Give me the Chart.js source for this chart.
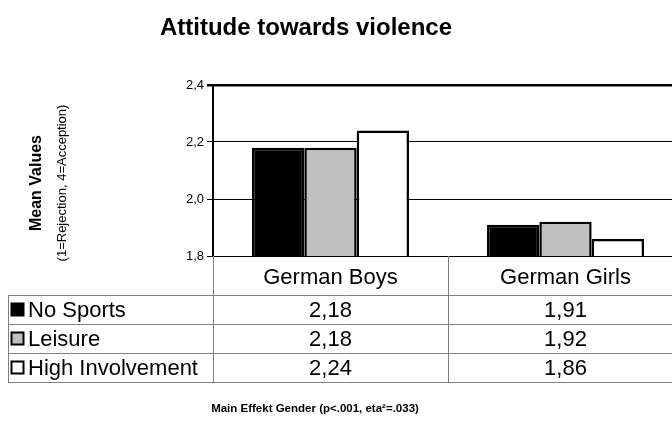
<!DOCTYPE html>
<html>
<head>
<meta charset="utf-8">
<script src="https://cdn.jsdelivr.net/npm/chart.js@4.4.1/dist/chart.umd.min.js"></script>
<style>
html,body{margin:0;padding:0;background:#fff;overflow:hidden;width:672px;height:427px;}
#wrap{position:absolute;left:0;top:0;width:690px;height:427px;}
</style>
</head>
<body>
<div id="wrap"><canvas id="c" width="690" height="427"></canvas></div>
<script>
const categories = ['German Boys', 'German Girls'];
const seriesNames = ['No Sports', 'Leisure', 'High Involvement'];
const noSports = [2.18, 1.91];
const leisure = [2.18, 1.92];
const highInvolvement = [2.24, 1.86];
const seriesColors = ['#000000', '#C0C0C0', '#FFFFFF'];
const yMin = 1.8, yMax = 2.4, yStep = 0.2;
const chartTitle = 'Attitude towards violence';
const yTitle = 'Mean Values';
const ySubTitle = '(1=Rejection, 4=Acception)';
const footNote = 'Main Effekt Gender (p<.001, eta\u00B2=.033)';

const FONT = '"Liberation Sans", Arial, sans-serif';
const fmt = (v, d) => v.toFixed(d).replace('.', ',');
const seriesData = [noSports, leisure, highInvolvement];

const tablePlugin = {
  id: 'tablePlugin',
  afterDraw(chart) {
    const ctx = chart.ctx;
    const ca = chart.chartArea;
    const x = chart.scales.x;
    ctx.save();
    // title
    ctx.fillStyle = '#000';
    ctx.font = 'bold 24px ' + FONT;
    ctx.textAlign = 'center';
    ctx.textBaseline = 'alphabetic';
    ctx.fillText(chartTitle, 306, 35);
    // y titles
    ctx.save();
    ctx.translate(41, 183);
    ctx.rotate(-Math.PI / 2);
    ctx.font = 'bold 16px ' + FONT;
    ctx.fillText(yTitle, 0, 0);
    ctx.restore();
    ctx.save();
    ctx.translate(66, 183);
    ctx.rotate(-Math.PI / 2);
    ctx.font = '13px ' + FONT;
    ctx.fillText(ySubTitle, 0, 0);
    ctx.restore();
    // footnote
    ctx.font = 'bold 11.5px ' + FONT;
    ctx.fillText(footNote, 315, 412);

    // table
    const top = ca.bottom;
    const headerH = 39;
    const rowH = 29;
    const leftX = 8;
    const catW = (ca.right - ca.left) / categories.length;
    ctx.strokeStyle = '#808080';
    ctx.lineWidth = 1;
    const nRows = seriesNames.length;
    const tableBottom = top + headerH + nRows * rowH;
    ctx.beginPath();
    for (let i = 0; i <= categories.length; i++) {
      const vx = Math.round(ca.left + i * catW) + 0.5;
      ctx.moveTo(vx, top);
      ctx.lineTo(vx, tableBottom);
    }
    ctx.moveTo(leftX + 0.5, top + headerH);
    ctx.lineTo(leftX + 0.5, tableBottom);
    for (let r = 0; r <= nRows; r++) {
      const hy = Math.round(top + headerH + r * rowH) + 0.5;
      ctx.moveTo(leftX, hy);
      ctx.lineTo(ca.right, hy);
    }
    ctx.stroke();

    ctx.fillStyle = '#000';
    ctx.font = '22px ' + FONT;
    ctx.textBaseline = 'middle';
    ctx.textAlign = 'center';
    categories.forEach((c, i) => {
      const cx = x.getPixelForValue(i);
      ctx.fillText(c, cx, top + headerH / 2 + 2);
    });
    seriesNames.forEach((s, r) => {
      const cy = top + headerH + r * rowH + rowH / 2 + 1;
      ctx.fillStyle = seriesColors[r];
      ctx.fillRect(11.5, cy - 7, 12, 12);
      ctx.strokeStyle = '#000';
      ctx.lineWidth = 2;
      ctx.strokeRect(11.5, cy - 7, 12, 12);
      ctx.fillStyle = '#000';
      ctx.textAlign = 'left';
      ctx.fillText(s, 28, cy);
      ctx.textAlign = 'center';
      seriesData[r].forEach((v, i) => {
        ctx.fillText(fmt(v, 2), x.getPixelForValue(i), cy);
      });
    });
    ctx.restore();
  }
};

new Chart(document.getElementById('c'), {
  type: 'bar',
  data: {
    labels: categories,
    datasets: seriesNames.map((n, i) => ({
      label: n,
      data: seriesData[i],
      backgroundColor: seriesColors[i],
      borderColor: '#000',
      borderWidth: 2.5,
      borderSkipped: 'bottom',
      categoryPercentage: 0.668,
      barPercentage: 1.0
    }))
  },
  options: {
    responsive: false,
    animation: false,
    devicePixelRatio: 1,
    layout: { padding: { left: 0, top: 85, right: 7, bottom: 171 } },
    plugins: { legend: { display: false }, title: { display: false }, tooltip: { enabled: false } },
    scales: {
      x: { display: false },
      y: {
        min: yMin, max: yMax,
        afterFit(scale) { scale.width = 213; },
        ticks: {
          stepSize: yStep,
          color: '#000',
          font: { family: FONT, size: 13 },
          padding: 3,
          callback: v => fmt(v, 1)
        },
        grid: {
          color: '#000',
          lineWidth: ctx => (ctx.tick && Math.abs(ctx.tick.value - yMax) < 1e-6) ? 2.5 : 1,
          drawTicks: true,
          tickLength: 6,
          tickColor: '#000'
        },
        border: { display: true, color: '#000', width: 2 }
      }
    }
  },
  plugins: [tablePlugin]
});
</script>
</body>
</html>
